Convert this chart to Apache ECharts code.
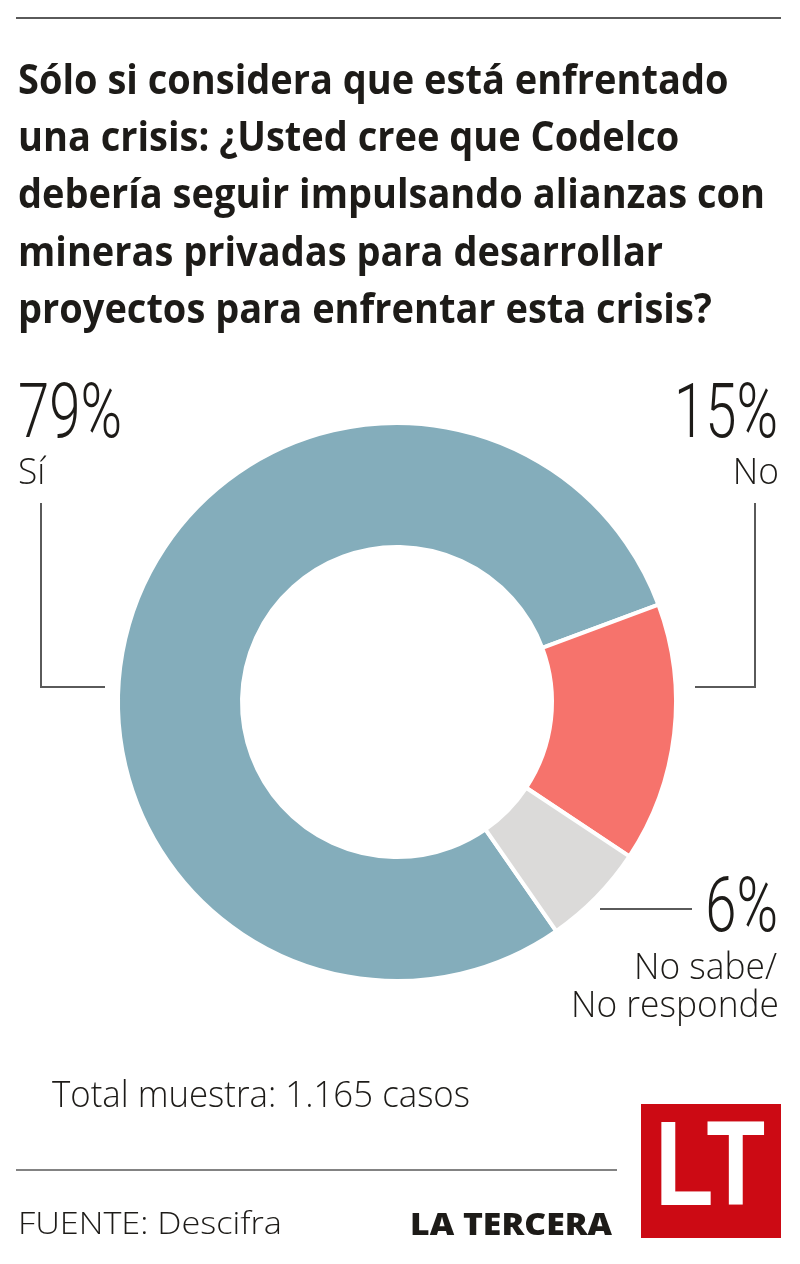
<!DOCTYPE html>
<html lang="es">
<head>
    <meta charset="UTF-8">
    <title>Codelco - alianzas con mineras privadas</title>
    <script src="https://cdn.jsdelivr.net/npm/echarts@6/dist/echarts.min.js"></script>
    <style>
        html, body { margin: 0; padding: 0; background: #fff; }
        #chart { width: 800px; height: 1264px; }
    </style>
</head>
<body>
    <div id="chart"></div>

    <script>
        // datos
        const categories = ['Sí', 'No', 'No sabe/\nNo responde'];
        const values = [79, 15, 6];
        const titleLines = [
            'Sólo si considera que está enfrentado',
            'una crisis: ¿Usted cree que Codelco',
            'debería seguir impulsando alianzas con',
            'mineras privadas para desarrollar',
            'proyectos para enfrentar esta crisis?'
        ];
        const sampleText = 'Total muestra: 1.165 casos';
        const sourceText = 'FUENTE: Descifra';
        const brandText = 'LA TERCERA';

        const palette = ['#84adbb', '#f6736c', '#dbdad9'];
        const ink = '#1d1b18';
        const ruleColor = '#5a5a5a';

        // ancho de un texto para comprimirlo a la medida del original
        const ctx = document.createElement('canvas').getContext('2d');
        function fitScale(text, font, width) {
            ctx.font = font;
            return width / ctx.measureText(text).width;
        }

        function label(text, x, y, font, align, sx, color, sy) {
            return {
                type: 'text',
                x: x, y: y,
                scaleX: sx,
                scaleY: sy || 1,
                silent: true,
                style: {
                    text: text,
                    font: font,
                    fill: color || ink,
                    align: align, textAlign: align,
                    verticalAlign: 'middle', textVerticalAlign: 'middle'
                }
            };
        }

        function line(x1, y1, x2, y2, w) {
            return {
                type: 'line', silent: true,
                shape: { x1: x1, y1: y1, x2: x2, y2: y2 },
                style: { stroke: ruleColor, lineWidth: w || 2 }
            };
        }

        const titleFont = '700 42px "Open Sans"';
        const titleScale = fitScale(titleLines[2], titleFont, 747);
        const pctFont = '300 72px Roboto';
        const pctScale = fitScale(values[0] + '%', pctFont, 104);
        const lblFont = '300 36px "Open Sans"';
        const lblScale = fitScale('No responde', lblFont, 208);

        const graphics = [];
        graphics.push(line(16, 18, 781, 18, 2));
        titleLines.forEach(function (t, i) {
            graphics.push(label(t, 18, 82 + i * 57.2, titleFont, 'left', titleScale));
        });

        // porcentajes y etiquetas
        graphics.push(label(values[0] + '%', 18, 418, pctFont, 'left', pctScale, ink, 1.06));
        graphics.push(label(categories[0], 18, 474, lblFont, 'left', lblScale));
        graphics.push(label(values[1] + '%', 778, 418, pctFont, 'right', pctScale, ink, 1.06));
        graphics.push(label(categories[1], 779, 474, lblFont, 'right', lblScale));
        graphics.push(label(values[2] + '%', 778, 912, pctFont, 'right', pctScale, ink, 1.06));
        const nsLines = categories[2].split('\n');
        graphics.push(label(nsLines[0], 777, 969, lblFont, 'right', lblScale));
        graphics.push(label(nsLines[1], 779, 1007, lblFont, 'right', lblScale));

        // líneas guía
        graphics.push({
            type: 'polyline', silent: true,
            shape: { points: [[41, 503], [41, 687], [105, 687]] },
            style: { stroke: ruleColor, lineWidth: 2, fill: null }
        });
        graphics.push({
            type: 'polyline', silent: true,
            shape: { points: [[755, 503], [755, 687], [695, 687]] },
            style: { stroke: ruleColor, lineWidth: 2, fill: null }
        });
        graphics.push(line(600, 909, 692, 909, 2));

        // pie de página
        const sampleFont = '300 36px "Open Sans"';
        graphics.push(label(sampleText, 52, 1097, sampleFont, 'left', fitScale(sampleText, sampleFont, 418)));
        graphics.push(line(16, 1170, 617, 1170, 1.5));
        const srcFont = '300 31px "Open Sans"';
        graphics.push(label(sourceText, 18, 1225, srcFont, 'left', fitScale(sourceText, srcFont, 264)));
        const brandFont = '800 30px "Open Sans"';
        graphics.push(label(brandText, 612, 1226, brandFont, 'right', fitScale(brandText, brandFont, 202)));

        // logo LT
        graphics.push({
            type: 'rect', silent: true,
            shape: { x: 641, y: 1104, width: 140, height: 134 },
            style: { fill: '#cc0a14' }
        });
        const logoFont = '700 120px "Liberation Sans"';
        graphics.push(label('LT', 655, 1172, logoFont, 'left', fitScale('LT', logoFont, 110), '#fff'));

        const chart = echarts.init(document.getElementById('chart'));
        chart.setOption({
            animation: false,
            backgroundColor: '#fff',
            series: [{
                type: 'pie',
                center: [397, 702],
                radius: [155, 279],
                startAngle: 304.8,
                clockwise: true,
                silent: true,
                label: { show: false },
                labelLine: { show: false },
                emphasis: { disabled: true },
                itemStyle: { borderColor: '#fff', borderWidth: 4 },
                data: categories.map(function (c, i) {
                    return { name: c, value: values[i], itemStyle: { color: palette[i] } };
                })
            }],
            graphic: { elements: graphics }
        });
    </script>
</body>
</html>
